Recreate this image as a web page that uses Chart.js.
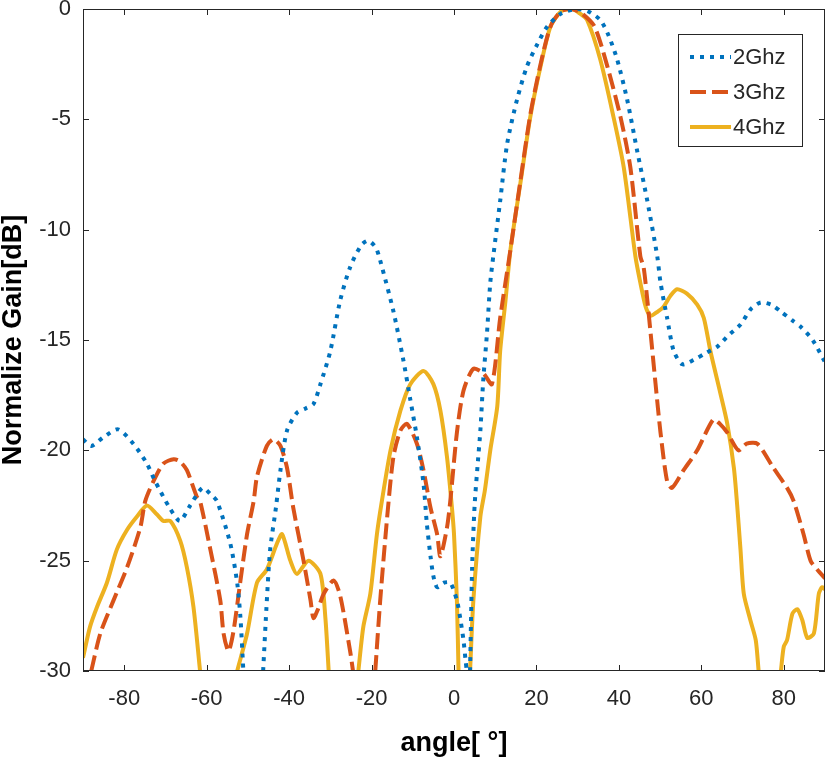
<!DOCTYPE html>
<html>
<head>
<meta charset="utf-8">
<script src="https://cdn.jsdelivr.net/npm/chart.js@4"></script>
<style>
  html, body { margin: 0; padding: 0; background: #fff; }
  #wrap { width: 827px; height: 759px; }
</style>
</head>
<body>
<div id="wrap"><canvas id="gainChart" width="827" height="759"></canvas></div>
<script>
// values (null = curve drops below -30 dB)
const SERIES_NAMES = ['2Ghz', '3Ghz', '4Ghz'];
const X_TICKS = [-80, -60, -40, -20, 0, 20, 40, 60, 80];
const Y_TICKS = [0, -5, -10, -15, -20, -25, -30];

const ANGLE_2G = [-90, -88, -85, -81.5, -77.8, -74.5, -72.5, -69, -66.5, -64, -61, -59, -57.5, -54.3, -52.6, -51.8, -51.1,
  -48.5, -46.3, -45.4, -44.6, -43.2, -42.1, -40.5, -38.1, -36, -34.1, -32.4, -30, -27.6, -25.2, -22.5, -20.8, -19, -17.9,
  -14.7, -12.3, -10.6, -9, -7.4, -6.6, -5.7, -5, -4.1, -2.5, -0.9, 0.7, 1.5, 2.3, 2.8, 3.1,
  3.5, 3.9, 4.4, 5.0, 5.8, 6.4, 7.1, 8, 8.8, 9.6, 11.2, 12.9, 15.3, 17.7, 20.2, 22.6, 26, 29.9, 32.5, 35.5, 37.5, 39.6,
  42, 44.4, 46.9, 49.3, 50.1, 51.7, 53.3, 55.4, 58.2, 61, 63.9, 66.5, 69.5, 72, 74.4, 77, 79.2, 82, 84.1, 87, 89.7, 90];
const GAIN_2G = [-19.5, -19.8, -19.4, -19.05, -19.7, -20.6, -21.4, -22.6, -23.2, -22.5, -21.7, -22.0, -22.3, -24.2, -26, -27.6, -30,
  null, -30, -26.8, -24.5, -22.6, -20.9, -19.1, -18.3, -18.1, -17.9, -17.0, -15.5, -13.2, -11.7, -10.7, -10.5, -10.8, -11.4,
  -13.7, -15.9, -17.7, -19.4, -21.5, -23.3, -24.8, -25.7, -26.2, -26.0, -26.0, -26.8, -27.6, -28.6, -29.5, -30,
  null, -30, -25.3, -22.5, -20.5, -19.1, -16.8, -14.7, -12.4, -11.1, -8.7, -6.1, -4.1, -2.6, -1.6, -0.8, -0.2, 0, -0.1, -0.5, -1.2, -2.3,
  -4.1, -6.4, -8.7, -11.2, -12.4, -14, -15.5, -16.1, -15.9, -15.6, -15.3, -14.8, -14.3, -13.6, -13.3, -13.4, -13.7, -14.1, -14.4, -15.0, -15.9, -16.0];

const ANGLE_3G = [-88, -85.8, -82.6, -79.3, -76.1, -74.9, -72.9, -70.5, -68, -66.5, -64.8, -62.4, -61.6, -59.1, -56.7, -55.9, -54.7,
  -53.5, -51.8, -50.2, -48.6, -47.8, -45.4, -43.8, -42.1, -40.5, -39, -36.5, -34.8, -34.1, -33, -31.6, -29.2, -27.6, -25.2, -24.5,
  -22, -19.1, -17.9, -16.2, -14.7, -13, -11.4, -9, -7.4, -5.7, -4.1, -3.3, -1.7, -0.9, 0.7, 2.3, 4.7, 7.1, 9.2, 11.2, 13.7,
  16.1, 18.5, 21, 23.4, 26, 28.5, 31, 34.1, 37.2, 40.4, 42.8, 45.2, 46, 46.9, 47.7, 48.9, 50.1, 51.7, 52.9, 55.7, 59, 62.9,
  64.5, 66.3, 69, 71, 73.6, 77.5, 80.8, 82.4, 84.8, 86.5, 88.1, 90];
const GAIN_3G = [-30, -28.3, -26.8, -25.3, -23.5, -22.3, -21.4, -20.6, -20.4, -20.5, -20.9, -22.1, -22.3, -24.5, -26.8, -28.3, -29.1,
  -28.2, -25.9, -23.8, -22.3, -21.2, -19.8, -19.5, -19.8, -20.8, -22.6, -25, -26.8, -27.6, -27.2, -26.5, -25.9, -26.6, -29.1, -30,
  null, -30, -26.8, -23, -20.3, -19.1, -18.8, -19.7, -20.9, -22.6, -23.8, -24.8, -23.5, -22.3, -19.2, -17.3, -16.3, -16.5, -17.0, -14, -10.9,
  -7.8, -4.8, -2.5, -0.8, -0.1, 0, -0.2, -0.8, -2.6, -4.9, -7.2, -11.2, -11.7, -13.2, -14.7, -17, -19.2, -21.4, -21.7, -20.9, -20, -18.6,
  -18.8, -19.2, -20, -19.7, -19.7, -20.8, -21.7, -22.3, -23.8, -25, -25.4, -25.8];

const ANGLE_4G = [-90, -88.3, -86.6, -84.2, -81.8, -79.3, -76.9, -74.5, -72.1, -70.5, -68.8, -66.4, -64.8, -63.2, -61.6,
  -57, -52.6, -50.2, -47.8, -45.4, -42.9, -41.7, -39.7, -38.1, -35.3, -32.4, -31.2, -30.4,
  -27, -23.2, -22, -20.3, -18.7, -17.5, -15.4, -13, -10.6, -7.4, -5, -3.3, -1.7, -0.5, 0, 0.7, 1.1,
  2.5, 3.9, 4.7, 6.4, 7.5, 8.8, 10.5, 11.2, 12.5, 13.7, 16.1, 18.5, 21, 23.4, 26, 28.7, 30.5, 32.3, 35.5, 38.7, 41.2, 44,
  45.2, 46.5, 47.7, 49.5, 50.8, 52.5, 54.1, 56.5, 59, 60.6, 62.2, 64.6, 66.3, 67.9, 68.7, 69.5, 70.3, 71.9, 73.2, 73.9,
  76.5, 79.3, 80, 80.8, 82.1, 83.3, 84.5, 85.7, 87.3, 88.5, 89.3, 90];
const GAIN_4G = [-29.4, -28, -27.1, -26, -24.5, -23.6, -23, -22.5, -22.9, -23.2, -23.2, -24.1, -25.3, -27.1, -30,
  null, -30, -28.3, -26, -25.4, -24.2, -23.8, -25, -25.6, -25, -25.6, -27.6, -30,
  null, -30, -28, -26.5, -23.8, -22.3, -20, -18.2, -17, -16.4, -17, -18.2, -20.3, -22.6, -23.8, -26.8, -30,
  null, -30, -26.8, -23, -21.8, -20, -18, -15.5, -13.2, -10.9, -7.9, -4.9, -2.6, -0.8, -0.1, 0, -0.2, -0.5, -2.3, -4.9, -7.2, -11.2,
  -12.4, -13.5, -13.9, -13.7, -13.5, -13, -12.7, -12.9, -13.4, -14, -15.5, -17.4, -18.8, -20.8, -22.5, -24.5, -26.5, -27.7, -28.6, -30,
  null, -30, -28.9, -28.6, -27.4, -27.2, -27.7, -28.5, -28.3, -26.5, -26.2, -26.3];

const COLORS = ['#0072BD', '#D95319', '#EDB120'];
const DASHES = [[4, 6], [16, 6], []];

function pts(xs, ys) {
  return xs.map((x, i) => ({ x: x, y: ys[i] }));
}

const seriesData = [pts(ANGLE_2G, GAIN_2G), pts(ANGLE_3G, GAIN_3G), pts(ANGLE_4G, GAIN_4G)];

// box, inward ticks and legend, drawn MATLAB style
const framePlugin = {
  id: 'frame',
  afterDraw(chart) {
    const ctx = chart.ctx;
    const a = chart.chartArea;
    const xs = chart.scales.x, ys = chart.scales.y;
    const tl = 6;
    ctx.save();
    ctx.strokeStyle = '#262626';
    ctx.lineWidth = 1;
    ctx.setLineDash([]);
    ctx.strokeRect(a.left + 0.5, a.top + 0.5, a.right - a.left - 1, a.bottom - a.top - 1);
    ctx.beginPath();
    X_TICKS.forEach(v => {
      const px = Math.round(xs.getPixelForValue(v)) + 0.5;
      ctx.moveTo(px, a.bottom); ctx.lineTo(px, a.bottom - tl);
      ctx.moveTo(px, a.top); ctx.lineTo(px, a.top + tl);
    });
    Y_TICKS.forEach(v => {
      const py = Math.round(ys.getPixelForValue(v)) + 0.5;
      ctx.moveTo(a.left, py); ctx.lineTo(a.left + tl, py);
      ctx.moveTo(a.right, py); ctx.lineTo(a.right - tl, py);
    });
    ctx.stroke();

    // legend
    const bx = 678, by = 34, bw = 124, bh = 112;
    ctx.fillStyle = '#fff';
    ctx.fillRect(bx, by, bw, bh);
    ctx.strokeRect(bx + 0.5, by + 0.5, bw, bh);
    const rows = [57, 92, 127];
    chart.data.datasets.forEach((ds, i) => {
      ctx.strokeStyle = ds.borderColor;
      ctx.lineWidth = ds.borderWidth;
      ctx.setLineDash(ds.borderDash);
      ctx.beginPath();
      ctx.moveTo(690, rows[i]);
      ctx.lineTo(731, rows[i]);
      ctx.stroke();
      ctx.setLineDash([]);
      ctx.fillStyle = '#262626';
      ctx.font = '22px "Liberation Sans", Arial, sans-serif';
      ctx.textBaseline = 'middle';
      ctx.textAlign = 'left';
      ctx.fillText(ds.label, 733, rows[i] + 1);
    });
    ctx.restore();
  }
};

const ctx = document.getElementById('gainChart').getContext('2d');
new Chart(ctx, {
  type: 'line',
  data: {
    datasets: seriesData.map((d, i) => ({
      label: SERIES_NAMES[i],
      data: d,
      borderColor: COLORS[i],
      borderWidth: 4,
      borderDash: DASHES[i],
      borderCapStyle: 'butt',
      pointRadius: 0,
      tension: 0.25,
      fill: false,
      spanGaps: false
    }))
  },
  options: {
    responsive: false,
    animation: false,
    layout: { padding: { top: 9, right: 2, left: 0, bottom: 0 } },
    plugins: { legend: { display: false }, tooltip: { enabled: false } },
    scales: {
      x: {
        type: 'linear',
        min: -90, max: 90,
        grid: { display: false, drawTicks: false },
        border: { display: false },
        afterBuildTicks: s => { s.ticks = X_TICKS.map(v => ({ value: v })); },
        afterFit: s => { s.height = 88; s.paddingLeft = 0; s.paddingRight = 0; },
        ticks: {
          color: '#262626',
          padding: 15,
          maxRotation: 0,
          font: { family: '"Liberation Sans", Arial, sans-serif', size: 22 }
        },
        title: {
          display: true,
          text: 'angle[ °]',
          color: '#000',
          padding: { top: 0, bottom: 2 },
          font: { family: '"Liberation Sans", Arial, sans-serif', size: 27, weight: 'bold', lineHeight: 1 }
        }
      },
      y: {
        min: -30, max: 0,
        grid: { display: false, drawTicks: false },
        border: { display: false },
        afterBuildTicks: s => { s.ticks = Y_TICKS.map(v => ({ value: v })); },
        afterFit: s => { s.width = 83; s.paddingTop = 0; s.paddingBottom = 0; },
        ticks: {
          color: '#262626',
          padding: 12,
          font: { family: '"Liberation Sans", Arial, sans-serif', size: 22 }
        },
        title: {
          display: true,
          text: 'Normalize Gain[dB]',
          color: '#000',
          padding: { top: 0, bottom: 0 },
          font: { family: '"Liberation Sans", Arial, sans-serif', size: 27, weight: 'bold', lineHeight: 1 }
        }
      }
    }
  },
  plugins: [framePlugin]
});
</script>
</body>
</html>
